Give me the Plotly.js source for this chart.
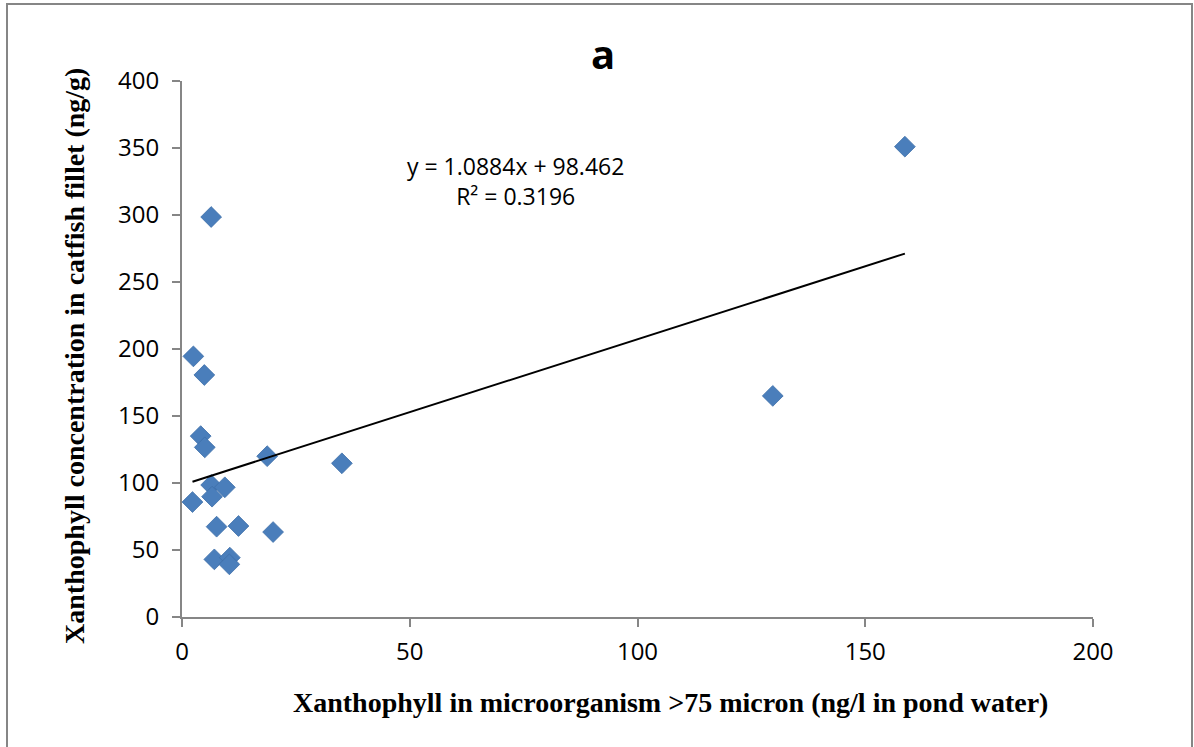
<!DOCTYPE html>
<html>
<head>
<meta charset="utf-8">
<script src="https://cdn.plot.ly/plotly-3.0.1.min.js"></script>
<style>html,body{margin:0;padding:0;background:#fff;}#chart{width:1194px;height:747px;}</style>
</head>
<body>
<div id="chart"></div>
<script>
// Xanthophyll in microorganism >75 micron (ng/l in pond water)
var xValues = [158.7, 129.7, 6.4, 2.5, 4.9, 4.1, 5.0, 18.7, 35.1, 2.3, 6.4, 9.4, 6.6, 7.6, 12.4, 20.0, 7.1, 10.5, 10.4];
// Xanthophyll concentration in catfish fillet (ng/g)
var yValues = [351, 165, 298.5, 194.5, 180.6, 135, 126.6, 120, 114.7, 85.8, 98.5, 96.8, 89.8, 67.4, 67.9, 63.4, 43, 44.3, 39.3];
var trendSlope = 1.0884;
var trendIntercept = 98.462;
var trendR2 = 0.3196;
var xTicks = [0, 50, 100, 150, 200];
var yTicks = [0, 50, 100, 150, 200, 250, 300, 350, 400];

var xMin = Math.min.apply(null, xValues), xMax = Math.max.apply(null, xValues);
var trendX = [xMin, xMax];
var trendY = trendX.map(function(v){ return trendSlope * v + trendIntercept; });

var tickFont = {family: 'Open Sans, Liberation Sans, sans-serif', size: 24, color: '#000'};
var titleFont = {family: 'Liberation Serif, Times New Roman, serif', size: 28, color: '#000'};

var data = [
  {x: xValues, y: yValues, type: 'scatter', mode: 'markers',
   marker: {symbol: 'diamond', size: 16, color: '#4a7ebb', line: {width: 0.8, color: '#3e6ea8'}},
   hoverinfo: 'x+y', showlegend: false},
  {x: trendX, y: trendY, type: 'scatter', mode: 'lines',
   line: {color: '#000', width: 2}, hoverinfo: 'skip', showlegend: false}
];

var layout = {
  width: 1194, height: 747,
  margin: {l: 182, r: 101, t: 81, b: 130},
  paper_bgcolor: '#fff', plot_bgcolor: '#fff',
  showlegend: false,
  xaxis: {range: [0, 200], tickvals: xTicks, ticktext: xTicks.map(String),
    showgrid: false, zeroline: false, showline: true, linecolor: '#868686', linewidth: 2,
    ticks: 'outside', ticklen: 8, tickwidth: 2, tickcolor: '#868686', tickfont: tickFont, ticklabelstandoff: 4},
  yaxis: {range: [0, 400], tickvals: yTicks, ticktext: yTicks.map(String),
    showgrid: false, zeroline: false, showline: true, linecolor: '#868686', linewidth: 2,
    ticks: 'outside', ticklen: 8, tickwidth: 2, tickcolor: '#868686', tickfont: tickFont, ticklabelstandoff: 8},
  annotations: [
    {text: '<b>a</b>', xref: 'paper', yref: 'paper', x: 0.462, y: 1.052, xanchor: 'center', yanchor: 'middle',
     showarrow: false, font: {family: 'Open Sans, Liberation Sans, sans-serif', size: 40, color: '#000'}},
    {text: 'y = ' + trendSlope.toFixed(4) + 'x + ' + trendIntercept.toFixed(3) + '<br>R² = ' + trendR2.toFixed(4),
     xref: 'paper', yref: 'paper', x: 0.3666, y: 0.813, xanchor: 'center', yanchor: 'middle', align: 'center',
     showarrow: false, font: {family: 'Open Sans, Liberation Sans, sans-serif', size: 23, color: '#000'}},
    {text: '<b>Xanthophyll in microorganism >75 micron (ng/l in pond water)</b>', xref: 'paper', yref: 'paper',
     x: 0.536, y: -0.160, xanchor: 'center', yanchor: 'middle', showarrow: false, font: titleFont},
    {text: '<b>Xanthophyll concentration in catfish fillet (ng/g)</b>', xref: 'paper', yref: 'paper',
     x: -0.1175, y: 0.487, xanchor: 'center', yanchor: 'middle', textangle: -90, showarrow: false, font: titleFont}
  ],
  shapes: [
    {type: 'rect', xref: 'paper', yref: 'paper',
     x0: (7 - 182) / 911, x1: (1192 - 182) / 911, y0: (617 - 760) / 536, y1: (617 - 4) / 536,
     line: {color: '#868686', width: 2}, fillcolor: 'rgba(0,0,0,0)', layer: 'below'}
  ]
};

Plotly.newPlot('chart', data, layout, {displayModeBar: false, staticPlot: true});
</script>
</body>
</html>
